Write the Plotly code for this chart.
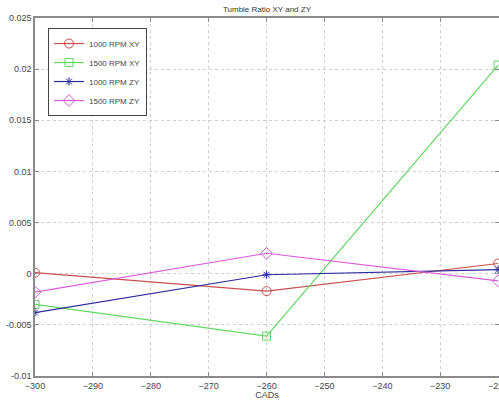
import plotly.graph_objects as go

cads = [-300, -260, -220]
rpm1000_xy = [0.0001, -0.0017, 0.0010]
rpm1500_xy = [-0.0030, -0.0061, 0.0204]
rpm1000_zy = [-0.0038, -0.0001, 0.0004]
rpm1500_zy = [-0.0018, 0.0020, -0.0007]

x_ticks = [-300, -290, -280, -270, -260, -250, -240, -230, -220]
y_ticks = [-0.01, -0.005, 0, 0.005, 0.01, 0.015, 0.02, 0.025]
y_tick_text = ["-0.01", "-0.005", "0", "0.005", "0.01", "0.015", "0.02", "0.025"]

series = [
    ("1000 RPM XY", rpm1000_xy, "#c8504e", "circle-open", 9),
    ("1500 RPM XY", rpm1500_xy, "#5fd95f", "square-open", 8),
    ("1000 RPM ZY", rpm1000_zy, "#2b2b9c", "asterisk-open", 7),
    ("1500 RPM ZY", rpm1500_zy, "#d95ad9", "diamond-open", 9),
]

fig = go.Figure()
for name, vals, color, sym, size in series:
    fig.add_trace(go.Scatter(
        x=cads, y=vals, name=name, mode="lines+markers",
        line=dict(color=color, width=1.2),
        marker=dict(symbol=sym, size=size, color=color, line=dict(color=color, width=1)),
        cliponaxis=True,
    ))

axis_common = dict(
    showline=True, mirror="ticks", linecolor="#8a8a8a", linewidth=1.5,
    ticks="inside", ticklen=4, tickcolor="#8a8a8a",
    showgrid=True, gridcolor="#cfcfcf", griddash="dot", gridwidth=1,
    zeroline=False, ticklabeloverflow="allow", automargin=False,
    tickfont=dict(family="Liberation Sans, Arial", size=9, color="#444"),
)

fig.update_layout(
    width=499, height=400,
    margin=dict(l=35, r=0, t=18, b=24),
    paper_bgcolor="white", plot_bgcolor="white",
    title=dict(text="Tumble Ratio XY and ZY", x=0.535, xanchor="center", y=0.985, yanchor="top",
               font=dict(family="Liberation Sans, Arial", size=8, color="#333")),
    xaxis=dict(range=[-300, -219.85], tickvals=x_ticks, title=dict(text="CADs", standoff=2,
               font=dict(family="Liberation Sans, Arial", size=9, color="#444")), **axis_common),
    yaxis=dict(range=[-0.01, 0.025], tickvals=y_ticks, ticktext=y_tick_text, **axis_common),
    showlegend=True,
    legend=dict(x=0.028, y=0.972, xanchor="left", yanchor="top",
                bgcolor="white", bordercolor="#444", borderwidth=1,
                font=dict(family="Liberation Sans, Arial", size=8, color="#444"),
                tracegroupgap=0, itemwidth=30),
)

fig.write_html("out.html")
